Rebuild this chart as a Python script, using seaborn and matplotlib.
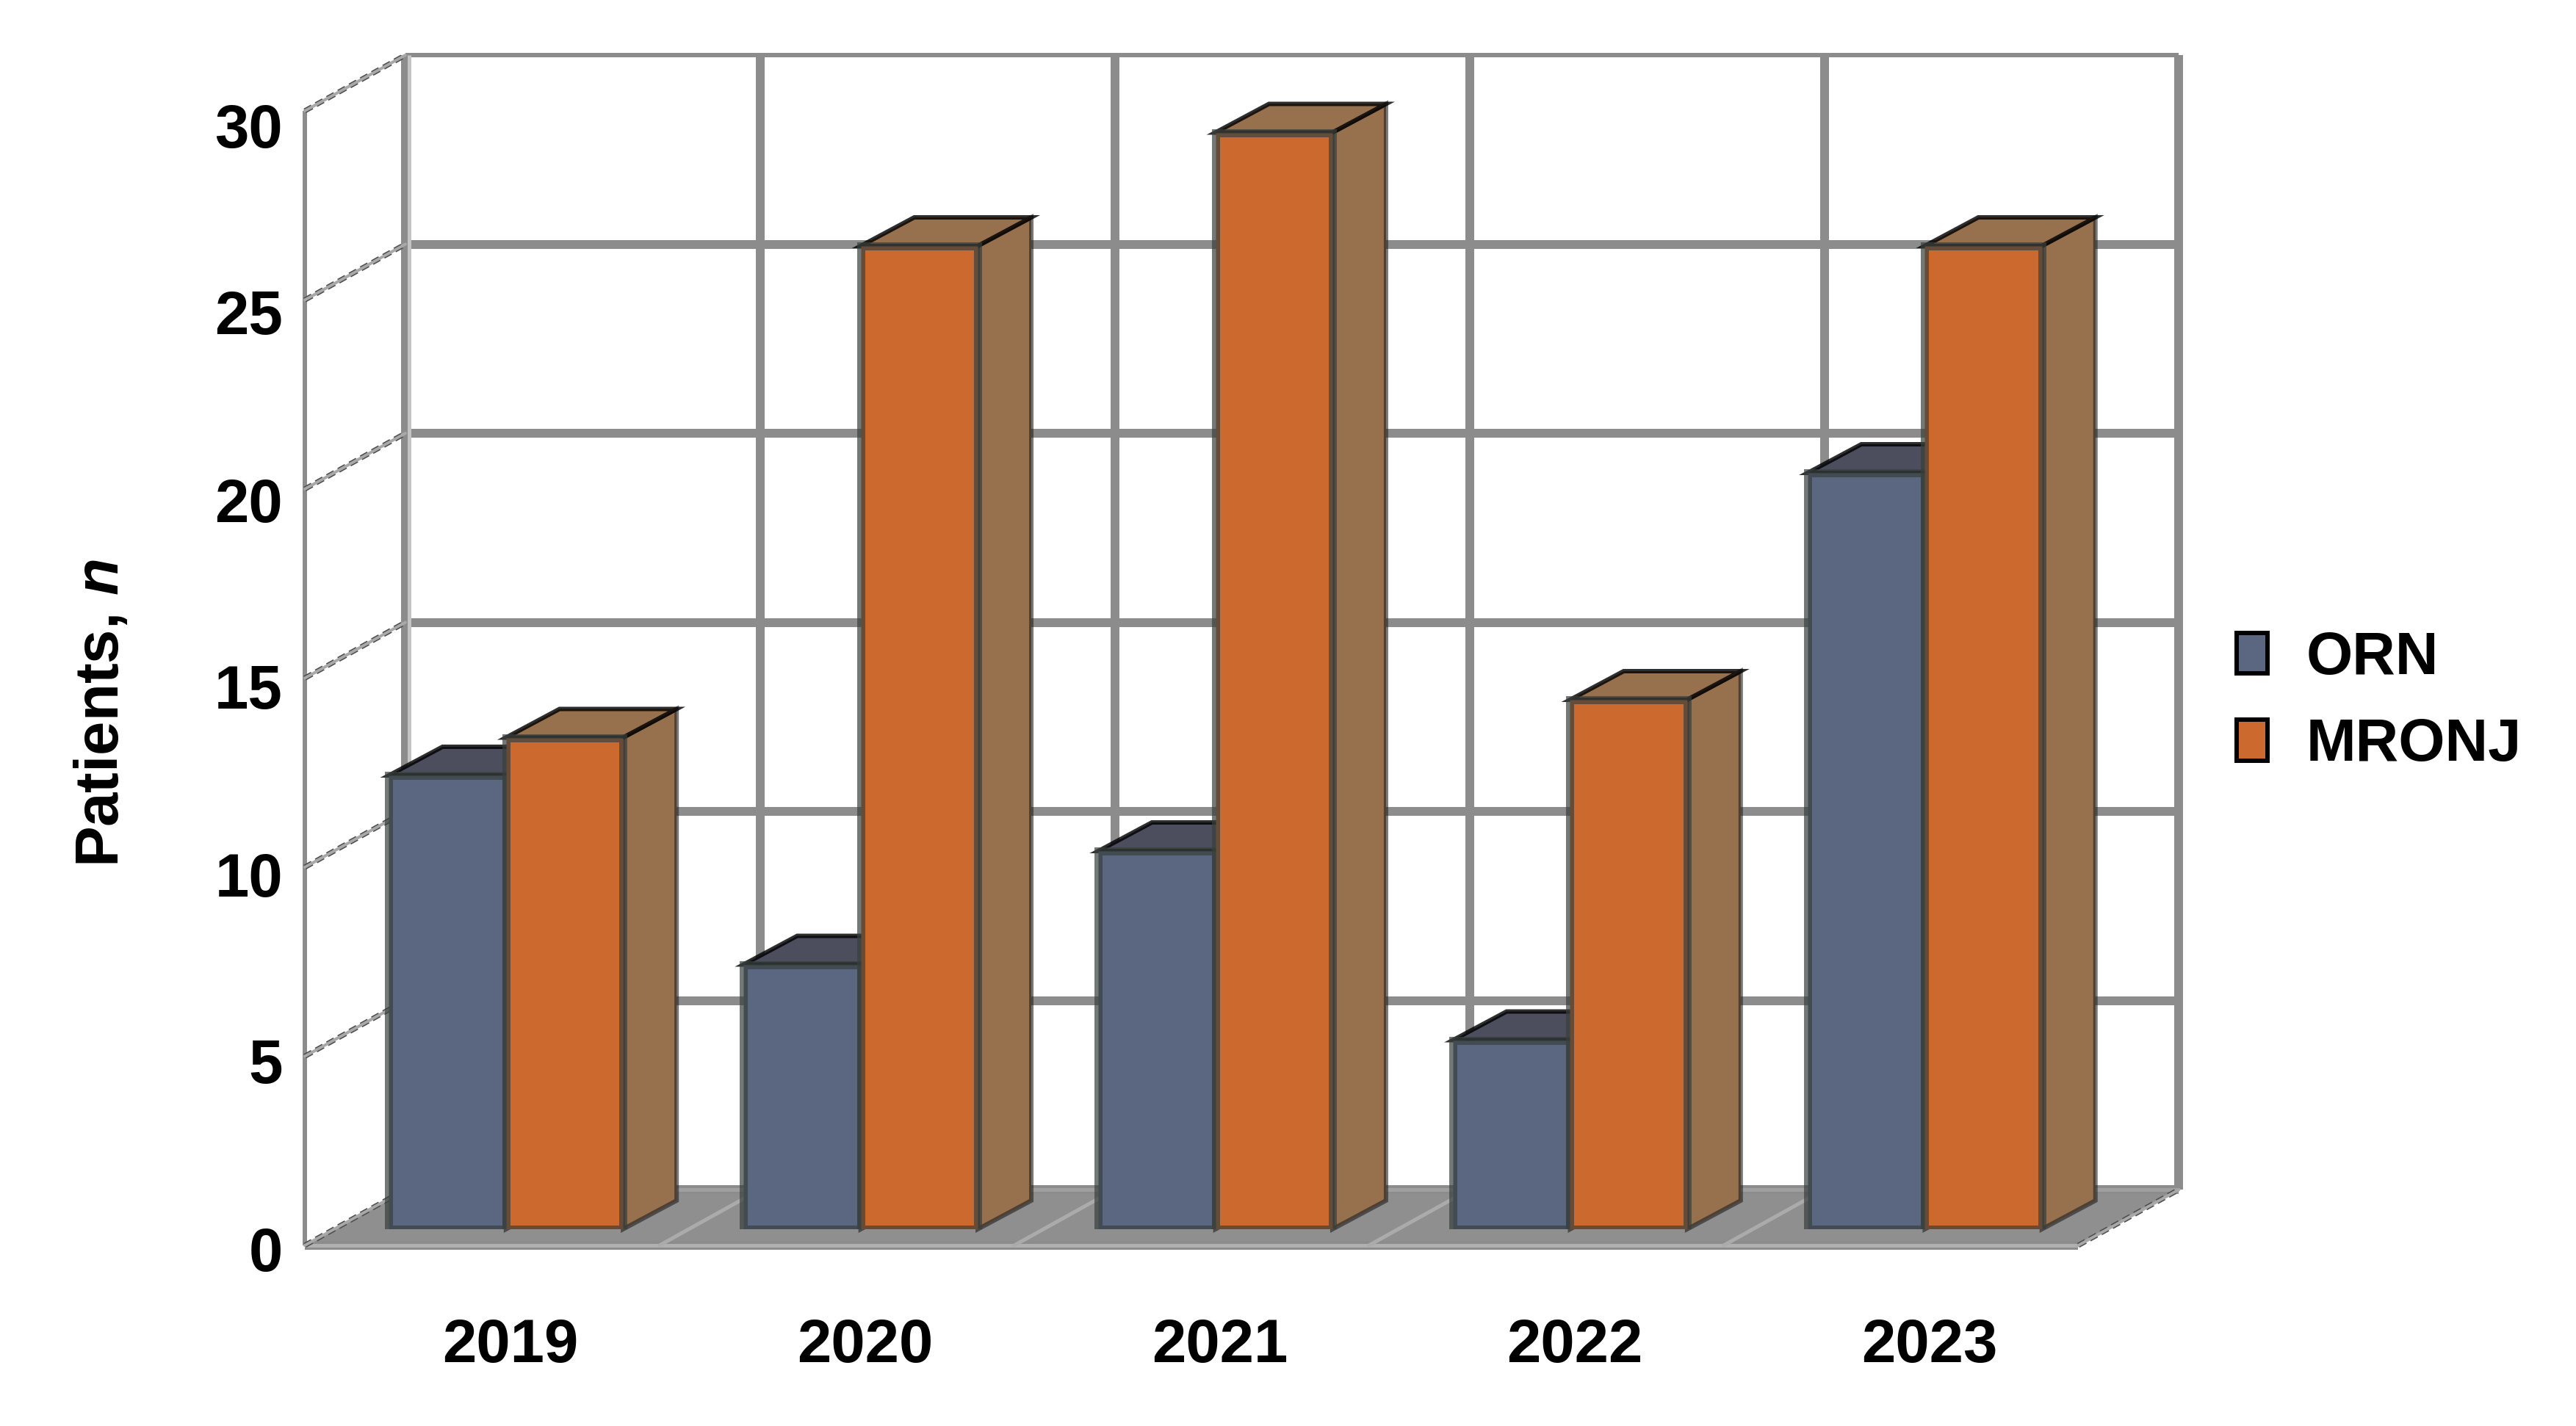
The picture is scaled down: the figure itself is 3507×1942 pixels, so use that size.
import matplotlib
matplotlib.use("Agg")
import matplotlib.pyplot as plt
import seaborn as sns
import pandas as pd
import numpy as np
from matplotlib.patches import Polygon
from matplotlib.transforms import Affine2D, IdentityTransform

years = ["2019", "2020", "2021", "2022", "2023"]
orn = [12, 7, 10, 5, 20]
mronj = [13, 26, 29, 14, 26]
series_names = ["ORN", "MRONJ"]
y_ticks = [0, 5, 10, 15, 20, 25, 30]

W, H, DPI = 3507, 1942, 300
PX = 72 / DPI

BLUE, ORANGE = "#5B6680", "#CC692F"
BLUE_TOP, BLUE_SIDE = "#4C4E5E", "#4C4E5E"
ORANGE_TOP, ORANGE_SIDE = "#97704E", "#97704E"
GRID = "#8C8C8C"

sns.set_theme(style="white")
plt.rcParams["font.family"] = ["Liberation Sans", "DejaVu Sans"]
plt.rcParams["mathtext.fontset"] = "custom"
plt.rcParams["mathtext.rm"] = "Liberation Sans:bold"
plt.rcParams["mathtext.bfit"] = "Liberation Sans:italic:bold"

fig = plt.figure(figsize=(W / DPI, H / DPI), dpi=DPI, facecolor="white")


def box(x0, y_top, x1, y_bottom):
    return [x0 / W, 1 - y_bottom / H, (x1 - x0) / W, (y_bottom - y_top) / H]


# Main axes: the bars' front plane; value 0 at y=1674 px, 51.5 px per patient
ax = fig.add_axes(box(415, 129, 2829, 1674), facecolor="none")
df = pd.DataFrame({
    "year": years * 2,
    "value": orn + mronj,
    "series": [series_names[0]] * 5 + [series_names[1]] * 5,
})
sns.barplot(data=df, x="year", y="value", hue="series", order=years,
            hue_order=series_names, palette=[BLUE, ORANGE], width=0.66,
            gap=0, saturation=1, dodge=True, ax=ax, zorder=6,
            edgecolor=(0.22, 0.25, 0.24, 0.7), linewidth=11 * PX)
ax.set_xlim(-0.567, 4.432)
ax.set_ylim(0, 30)
for s in ax.spines.values():
    s.set_visible(False)
ax.set_yticks([])
ax.set_xlabel("")
ax.set_ylabel("")
ax.set_xticks(range(5), years)
ax.tick_params(axis="x", length=0, pad=(1794 - 1674) * PX, labelsize=20)
for lab in ax.get_xticklabels():
    lab.set_fontweight("bold")
    lab.set_color("black")
    lab.set_transform(lab.get_transform() + Affine2D().translate(6, 0))

# pseudo-3D planes, expressed as pixel offsets from the front plane
FRONT = Affine2D().translate(0, -22)
BACK = Affine2D().translate(137, 54)
x_edges = np.arange(6) - 0.567 + 0.0
xmin, xmax = x_edges[0], x_edges[-1]
tf_front = ax.transData + FRONT
tf_back = ax.transData + BACK
ax.vlines(x_edges, 0, 30, color=GRID, lw=12 * PX, transform=tf_back, zorder=1, clip_on=False)
ax.hlines(y_ticks[1:-1], xmin, xmax, color=GRID, lw=12 * PX, transform=tf_back, zorder=1, clip_on=False)
ax.hlines([30], xmin, xmax, color=GRID, lw=6 * PX, transform=tf_back, zorder=1, clip_on=False)
ax.vlines([xmin], 0, 30, color="#C4C4C4", lw=5 * PX, transform=tf_back + Affine2D().translate(5, 0),
          zorder=1.1, clip_on=False)
ax.vlines([xmin], 0, 30, color=GRID, lw=6 * PX, transform=tf_front, zorder=1, clip_on=False)


def to_px(tf, x, y):
    return tf.transform((x, y))


# left wall diagonals
def diagonal(p, q, z=2):
    xs, ys = zip(p, q)
    ax.add_line(plt.Line2D(xs, ys, transform=IdentityTransform(), color="#4A4A4A",
                           lw=7 * PX, ls=(0, (1.6, 0.9)), zorder=z, clip_on=False))
    ax.add_line(plt.Line2D(xs, ys, transform=IdentityTransform(), color="#A8A8A8",
                           lw=4 * PX, zorder=z + 0.1, clip_on=False))


# floor
fp = [to_px(tf_front, xmin, 0), to_px(tf_front, xmax, 0), to_px(tf_back, xmax, 0), to_px(tf_back, xmin, 0)]
ax.add_patch(Polygon(fp, closed=True, transform=IdentityTransform(), facecolor="#8F8F8F",
                     edgecolor="none", zorder=1.5, clip_on=False))
ax.hlines([0], xmin, xmax, color=GRID, lw=12 * PX, transform=tf_front, zorder=1.6, clip_on=False)
ax.hlines([0], xmin, xmax, color="#B0B0B0", lw=5 * PX, transform=tf_front, zorder=1.7, clip_on=False)
ax.hlines([0], xmin, xmax, color=GRID, lw=12 * PX, transform=tf_back, zorder=1.6, clip_on=False)
ax.hlines([0], xmin, xmax, color="#A0A0A0", lw=5 * PX, transform=tf_back, zorder=1.7, clip_on=False)
for xe in x_edges[1:-1]:
    p, q = to_px(tf_front, xe, 0), to_px(tf_back, xe, 0)
    ax.add_line(plt.Line2D([p[0], q[0]], [p[1], q[1]], transform=IdentityTransform(),
                           color="#ABABAB", lw=5 * PX, zorder=1.8, clip_on=False))
for v in y_ticks:
    diagonal(to_px(tf_front, xmin, v), to_px(tf_back, xmin, v))
diagonal(to_px(tf_front, xmax, 0), to_px(tf_back, xmax, 0))

# bar tops and sides, taken from the drawn bars
fig.canvas.draw()
DX, DY = 73, 39
bars = [p for c in ax.containers for p in c]
for i, bar in enumerate(bars):
    x0, w, h = bar.get_x(), bar.get_width(), bar.get_height()
    is_blue = i < 5
    bl = to_px(ax.transData, x0, h)
    br = to_px(ax.transData, x0 + w, h)
    b0 = to_px(ax.transData, x0 + w, 0)
    top = [bl, br, br + [DX, DY], bl + [DX, DY]]
    side = [br, b0, b0 + [DX, DY], br + [DX, DY]]
    ax.add_patch(Polygon(side, closed=True, transform=IdentityTransform(),
                         facecolor=BLUE_SIDE if is_blue else ORANGE_SIDE,
                         edgecolor=(0.12, 0.12, 0.12, 0.6),
                         lw=6 * PX, zorder=4, clip_on=False))
    ax.add_patch(Polygon(top, closed=True, transform=IdentityTransform(),
                         facecolor=BLUE_TOP if is_blue else ORANGE_TOP,
                         edgecolor=(0, 0, 0, 0.82),
                         lw=6 * PX, zorder=5, clip_on=False))

# value axis: labels sit slightly lower than the wall's lines
ax_y = fig.add_axes(box(405, 170, 415, 1700), facecolor="none")
ax_y.set_ylim(0, 30)
ax_y.set_xticks([])
ax_y.set_yticks(y_ticks)
ax_y.tick_params(axis="y", length=0, pad=20 * PX, labelsize=20)
for lab in ax_y.get_yticklabels():
    lab.set_fontweight("bold")
    lab.set_color("black")
for s in ax_y.spines.values():
    s.set_visible(False)

fig.text(139 / W, 1 - 971 / H, r"Patients, $\mathbfit{n}$", rotation=90, ha="center", va="center",
         fontsize=20, fontweight="bold", color="black")

# legend
handles, labels = ax.get_legend_handles_labels()
leg = fig.legend(handles, labels, loc="upper left", bbox_to_anchor=(3045 / W, 1 - 859 / H),
                 bbox_transform=fig.transFigure, frameon=False, borderpad=0, borderaxespad=0,
                 prop={"family": "Liberation Sans", "weight": "bold", "size": 19.5},
                 handlelength=0.52, handleheight=0.68, handletextpad=0.65, labelspacing=0.52,
                 labelcolor="black")
for h in leg.legend_handles:
    h.set_edgecolor("black")
    h.set_linewidth(6 * PX)
if ax.get_legend():
    ax.get_legend().remove()

fig.savefig("out.png", dpi=DPI, facecolor="white")
